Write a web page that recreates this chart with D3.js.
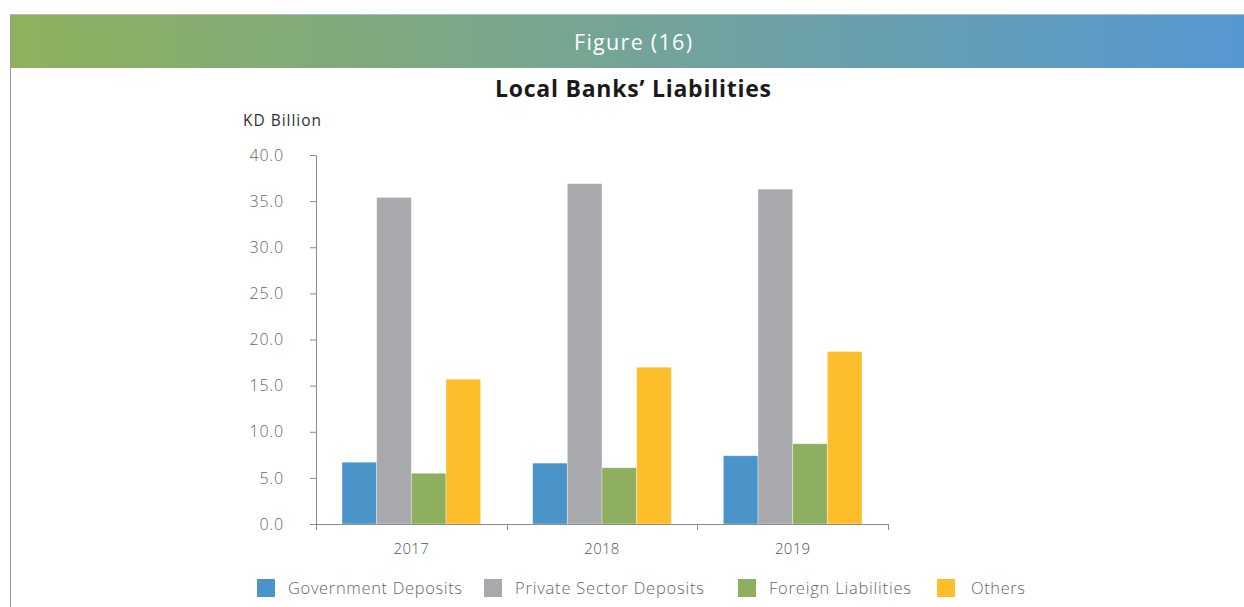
<!DOCTYPE html>
<html>
<head>
<meta charset="utf-8">
<script src="https://cdn.jsdelivr.net/npm/d3@7"></script>
<style>
  html, body { margin: 0; padding: 0; background: #fff; }
  svg { display: block; font-family: "Open Sans", "Noto Sans", sans-serif; }
</style>
</head>
<body>
<svg id="chart" width="1244" height="607"></svg>
<script>
// Local banks' liabilities, KD billion
const years = ["2017", "2018", "2019"];
const seriesNames = ["Government Deposits", "Private Sector Deposits", "Foreign Liabilities", "Others"];
const governmentDeposits = [6.7, 6.6, 7.4];
const privateSectorDeposits = [35.4, 36.9, 36.3];
const foreignLiabilities = [5.5, 6.1, 8.7];
const others = [15.7, 17.0, 18.7];
const yTicks = [0, 5, 10, 15, 20, 25, 30, 35, 40];
const seriesColors = ["#4a94c9", "#a8a9ad", "#8faf60", "#fdbe2c"];

const seriesValues = [governmentDeposits, privateSectorDeposits, foreignLiabilities, others];
const rows = years.map((yr, i) => ({
  year: yr,
  values: seriesNames.map((name, s) => ({ name, value: seriesValues[s][i], color: seriesColors[s] }))
}));

const svg = d3.select("#chart");
const W = 1244;

// Header band with gradient
const defs = svg.append("defs");
const grad = defs.append("linearGradient").attr("id", "hdr").attr("x1", "0").attr("x2", "1");
grad.append("stop").attr("offset", "0").attr("stop-color", "#8eb15c");
grad.append("stop").attr("offset", "0.5").attr("stop-color", "#74a497");
grad.append("stop").attr("offset", "1").attr("stop-color", "#5597d2");

svg.append("line").attr("x1", 10).attr("x2", W).attr("y1", 14.5).attr("y2", 14.5)
  .attr("stroke", "#b9bcbf").attr("stroke-width", 1);
svg.append("rect").attr("x", 10).attr("y", 15).attr("width", W - 10).attr("height", 53)
  .attr("fill", "url(#hdr)");
svg.append("line").attr("x1", 10.5).attr("x2", 10.5).attr("y1", 15).attr("y2", 607)
  .attr("stroke", "#9a9a9a").attr("stroke-width", 1);

svg.append("text").attr("x", 574).attr("y", 50)
  .attr("fill", "#fff").attr("font-size", 21.5).attr("font-weight", 500)
  .attr("textLength", 118).attr("lengthAdjust", "spacing")
  .text("Figure (16)");

svg.append("text").attr("x", 495).attr("y", 97)
  .attr("fill", "#1a1a1a").attr("font-size", 23).attr("font-weight", "bold")
  .attr("textLength", 276).attr("lengthAdjust", "spacing")
  .text("Local Banks’ Liabilities");

svg.append("text").attr("x", 243).attr("y", 126)
  .attr("fill", "#333").attr("font-size", 15.5)
  .attr("textLength", 78).attr("lengthAdjust", "spacing")
  .text("KD Billion");

// Scales
const margin = { left: 316, right: 888, top: 155, bottom: 524 };
const y = d3.scaleLinear().domain([0, 40]).range([margin.bottom, margin.top]);
const x0 = d3.scaleBand().domain(years).range([margin.left, margin.right]).padding(0);
const x1 = d3.scaleBand().domain(seriesNames).range([0, x0.bandwidth()])
  .paddingInner(0).paddingOuter(0.75);

// Y axis
const yAxis = svg.append("g").attr("transform", `translate(${margin.left},0)`)
  .call(d3.axisLeft(y).tickValues(yTicks).tickFormat(d3.format(".1f")).tickSize(6).tickSizeOuter(0));
yAxis.select(".domain").attr("stroke", "#8c8c8c");
yAxis.selectAll(".tick line").attr("stroke", "#8c8c8c");
yAxis.selectAll(".tick text").attr("x", -32).attr("fill", "#666")
  .attr("font-size", 16).attr("font-weight", 300).attr("letter-spacing", 0.8)
  .attr("font-family", "'Open Sans', sans-serif");

// Bars
const groups = svg.append("g").selectAll("g").data(rows).join("g")
  .attr("transform", d => `translate(${x0(d.year)},0)`);
groups.selectAll("rect").data(d => d.values).join("rect")
  .attr("x", d => x1(d.name))
  .attr("y", d => y(d.value))
  .attr("width", x1.bandwidth())
  .attr("height", d => y(0) - y(d.value))
  .attr("fill", d => d.color)
  .attr("stroke", "#ffffff").attr("stroke-opacity", 0.45).attr("stroke-width", 0.8);

// X axis with ticks on band boundaries
const xAxisG = svg.append("g").attr("transform", `translate(0,${margin.bottom})`);
xAxisG.append("line").attr("x1", margin.left).attr("x2", margin.right)
  .attr("y1", 0.5).attr("y2", 0.5).attr("stroke", "#8c8c8c");
const boundaries = years.map(yr => x0(yr)).concat([margin.right]);
xAxisG.selectAll("line.tk").data(boundaries).join("line").attr("class", "tk")
  .attr("x1", d => Math.round(d) + 0.5).attr("x2", d => Math.round(d) + 0.5)
  .attr("y1", 0).attr("y2", 6).attr("stroke", "#8c8c8c");
xAxisG.selectAll("text").data(years).join("text")
  .attr("x", d => x0(d) + x0.bandwidth() / 2)
  .attr("y", 30).attr("text-anchor", "middle")
  .attr("fill", "#555").attr("font-size", 15).attr("font-weight", 300)
  .attr("letter-spacing", 0.3)
  .text(d => d);

// Legend
const legendX = [257, 484, 738, 937];
const legendTextW = [174, 189, 142, 54];
const legend = svg.append("g").selectAll("g").data(seriesNames).join("g")
  .attr("transform", (d, i) => `translate(${legendX[i]},579)`);
legend.append("rect").attr("width", 18).attr("height", 18)
  .attr("fill", (d, i) => seriesColors[i]);
legend.append("text").attr("x", (d, i) => i === 3 ? 34 : 31).attr("y", 15)
  .attr("fill", "#666").attr("font-size", 16.5).attr("font-weight", 300)
  .attr("textLength", (d, i) => legendTextW[i]).attr("lengthAdjust", "spacing")
  .text(d => d);
</script>
</body>
</html>
